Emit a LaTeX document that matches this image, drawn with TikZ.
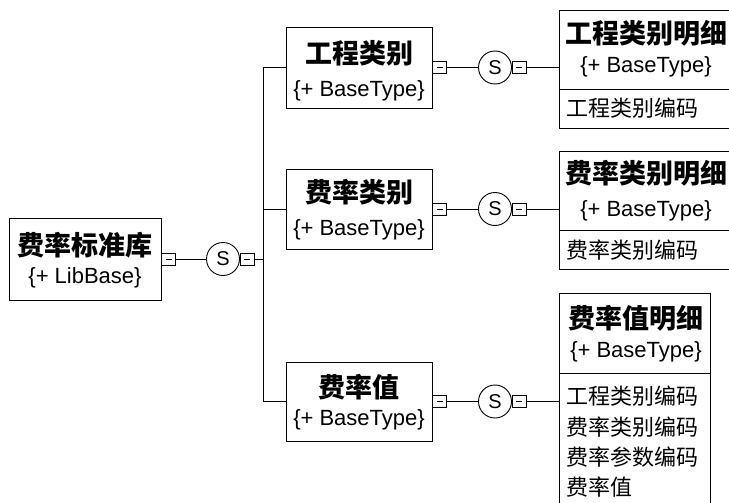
\documentclass[tikz,border=0pt]{standalone}
\usepackage{fontspec}
\setmainfont{Liberation Sans}
\newfontfamily\cjk{Noto Sans CJK SC}
\usepackage{tikz}
\usetikzlibrary{positioning}

\begin{document}
\begin{tikzpicture}[x=1pt,y=-1pt,line width=0.9pt]
  \tikzstyle{box}=[draw,rectangle,inner sep=0pt]
  \tikzstyle{title}=[inner sep=0pt,font=\cjk\bfseries\fontsize{27}{30}\selectfont]
  \tikzstyle{base}=[inner sep=0pt,font=\fontsize{22}{24}\selectfont]
  \tikzstyle{field}=[inner sep=0pt,anchor=west,font=\cjk\fontsize{22}{24}\selectfont]
  \tikzstyle{seq}=[circle,draw,minimum size=33pt,inner sep=0pt,font=\fontsize{20}{22}\selectfont]
  \tikzstyle{minus}=[draw,rectangle,minimum width=14pt,minimum height=12pt,inner sep=0pt]

  \useasboundingbox (0,0) rectangle (729,503);
  \clip (0,0) rectangle (729,503);

  % root
  \node[box,minimum width=152pt,minimum height=82pt] (lib) at (85,259) {};
  \node[title] (lib-t) at (85,245) {费率标准库};
  \node[base] (lib-b) at (85,278) {\{+ LibBase\}};
  \node[minus,right=0pt of lib] (lib-m) {\rule{6pt}{0.9pt}};
  \node[seq] (lib-s) at (223,259) {S};
  \node[minus,right=0pt of lib-s] (lib-m2) {\rule{6pt}{0.9pt}};
  \coordinate (spine) at (263,259);

  % middle column
  \node[box,minimum width=146pt,minimum height=81pt] (gc) at (359,67.5) {};
  \node[title] (gc-t) at (359,53) {工程类别};
  \node[base] (gc-b) at (359,91) {\{+ BaseType\}};
  \node[box,minimum width=146pt,minimum height=80pt] (fl) at (359,209) {};
  \node[title] (fl-t) at (359,192) {费率类别};
  \node[base] (fl-b) at (359,230) {\{+ BaseType\}};
  \node[box,minimum width=146pt,minimum height=79pt] (fv) at (359,401.5) {};
  \node[title] (fv-t) at (359,387) {费率值};
  \node[base] (fv-b) at (359,420) {\{+ BaseType\}};

  \foreach \n in {gc,fl,fv} {
    \node[minus,right=0pt of \n] (\n-m) {\rule{6pt}{0.9pt}};
    \node[seq] (\n-s) at (495,0 |- \n) {S};
    \node[minus,right=0pt of \n-s] (\n-m2) {\rule{6pt}{0.9pt}};
  }

  % right column
  \node[box,minimum width=174pt,minimum height=79pt] (rd1) at (646,49.5) {};
  \node[box,minimum width=174pt,minimum height=39pt] (rf1) at (646,108.5) {};
  \node[title] (rd1-t) at (646,33) {工程类别明细};
  \node[base] (rd1-b) at (646,67) {\{+ BaseType\}};
  \node[field] (rf1-a) at (566,108) {工程类别编码};

  \node[box,minimum width=174pt,minimum height=79pt] (rd2) at (646,190.5) {};
  \node[box,minimum width=174pt,minimum height=39pt] (rf2) at (646,249.5) {};
  \node[title] (rd2-t) at (646,173) {费率类别明细};
  \node[base] (rd2-b) at (646,211) {\{+ BaseType\}};
  \node[field] (rf2-a) at (566,250) {费率类别编码};

  \node[box,minimum width=151pt,minimum height=80pt] (rd3) at (634.5,333) {};
  \node[box,minimum width=151pt,minimum height=142pt] (rf3) at (634.5,444) {};
  \node[title] (rd3-t) at (636,318) {费率值明细};
  \node[base] (rd3-b) at (636,352) {\{+ BaseType\}};
  \node[field] (rf3-a) at (566,396) {工程类别编码};
  \node[field] (rf3-b) at (566,427) {费率类别编码};
  \node[field] (rf3-c) at (566,457) {费率参数编码};
  \node[field] (rf3-d) at (566,487) {费率值};

  % connectors
  \draw (lib-m) -- (lib-s);
  \draw (lib-s) -- (lib-m2);
  \draw (lib-m2.east) -- (lib-m2.east -| spine);
  \draw (gc.west -| spine) -- (fv.west -| spine);
  \foreach \n in {gc,fl,fv} {
    \draw (\n.west -| spine) -- (\n.west);
    \draw (\n-m) -- (\n-s);
    \draw (\n-s) -- (\n-m2);
  }
  \draw (gc-m2.east) -- (gc-m2.east -| rd1.west);
  \draw (fl-m2.east) -- (fl-m2.east -| rd2.west);
  \draw (fv-m2.east) -- (fv-m2.east -| rd3.west);
\end{tikzpicture}
\end{document}
